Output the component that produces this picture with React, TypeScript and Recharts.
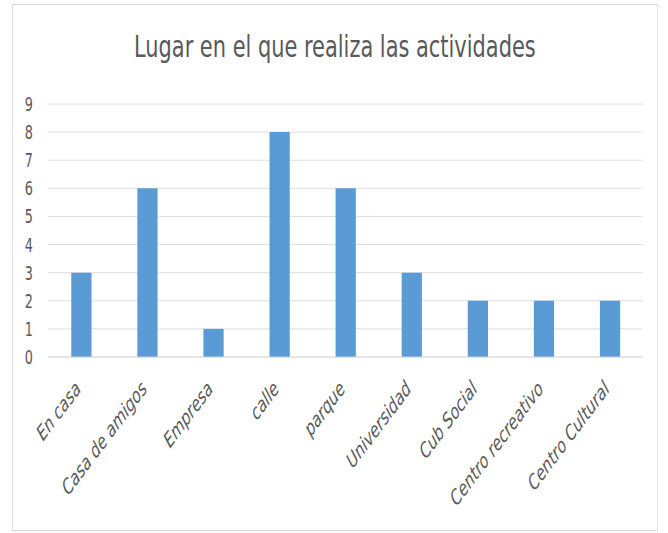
import React from 'react';
import { BarChart, Bar, XAxis, YAxis, CartesianGrid } from 'recharts';

const categories = [
  'En casa',
  'Casa de amigos',
  'Empresa',
  'calle',
  'parque',
  'Universidad',
  'Cub Social',
  'Centro recreativo',
  'Centro Cultural',
];
const counts = [3, 6, 1, 8, 6, 3, 2, 2, 2];
const yTicks = [0, 1, 2, 3, 4, 5, 6, 7, 8, 9];

const FONT = '"Liberation Sans Narrow", "DejaVu Sans Condensed", "Open Sans", sans-serif';
const TEXT = '#595959';
// the reference looks squeezed sideways, so the whole chart is drawn wider and compressed
const SQUEEZE = 0.75;
const W = Math.round(668 / SQUEEZE);
const H = 533;

const data = categories.map((name, i) => ({ name, value: counts[i] }));

function XTick(props: any) {
  const { x, y, payload } = props;
  const ax = x + 1;
  const ay = y + 25;
  return (
    <text
      x={ax}
      y={ay}
      transform={`rotate(-45, ${ax}, ${ay})`}
      textAnchor="end"
      fill={TEXT}
      fontSize={21}
      fontStyle="italic"
      fontFamily={FONT}
    >
      {payload.value}
    </text>
  );
}

function YTick(props: any) {
  const { y, payload } = props;
  return (
    <text x={44} y={y + 7} textAnchor="end" fill={TEXT} fontSize={19} fontFamily={FONT}>
      {payload.value}
    </text>
  );
}

export default function App() {
  return (
    <div
      style={{
        position: 'absolute',
        left: 0,
        top: 0,
        width: W,
        height: H,
        background: '#fff',
        transform: `scaleX(${SQUEEZE})`,
        transformOrigin: '0 0',
      }}
    >
      <div
        style={{
          position: 'absolute',
          left: 16,
          top: 4,
          width: 859,
          height: 525,
          border: '1px solid #d9d9d9',
        }}
      />
      <div
        style={{
          position: 'absolute',
          left: 16,
          top: 28,
          width: 861,
          textAlign: 'center',
          fontFamily: FONT,
          fontSize: 31,
          color: TEXT,
        }}
      >
        Lugar en el que realiza las actividades
      </div>
      <div style={{ position: 'absolute', left: 0, top: 0 }}>
        <BarChart
          width={W}
          height={H}
          data={data}
          margin={{ top: 104, right: 34, left: 24, bottom: 0 }}
        >
          <CartesianGrid stroke="#d9d9d9" vertical={false} />
          <XAxis
            dataKey="name"
            height={176}
            interval={0}
            tickLine={false}
            axisLine={{ stroke: '#d9d9d9' }}
            tick={<XTick />}
          />
          <YAxis
            width={40}
            domain={[0, 9]}
            ticks={yTicks}
            interval={0}
            tickLine={false}
            axisLine={false}
            tick={<YTick />}
          />
          <Bar dataKey="value" fill="#5b9bd5" barSize={27} isAnimationActive={false} />
        </BarChart>
      </div>
    </div>
  );
}
